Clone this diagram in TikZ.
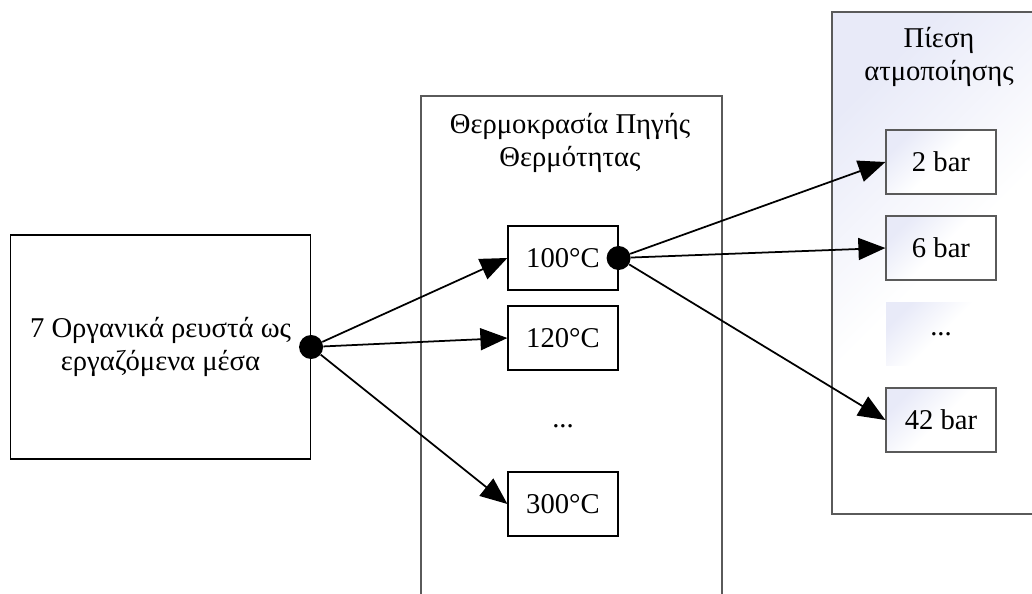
\documentclass[tikz,border=0pt]{standalone}
\usepackage{fontspec}
\setmainfont{Liberation Serif}
\usepackage{tikz}
\usetikzlibrary{positioning,arrows.meta,calc}
\definecolor{lavshade}{RGB}{232,234,248}
\definecolor{frame}{RGB}{90,90,90}

\begin{document}
\begin{tikzpicture}[
  x=0.02cm,y=-0.02cm,
  font=\fontsize{16.3}{18.8}\selectfont,
  box/.style={draw=black,line width=0.7pt,minimum width=2.2cm,minimum height=1.28cm,inner sep=0,align=center},
  grad/.style={top color=lavshade,bottom color=white,middle color=white,shading angle=45},
  pbox/.style={box,draw=frame,grad},
  colbox/.style={draw=frame,line width=0.7pt},
  dot/.style={circle,fill=black,inner sep=0,minimum size=0.48cm},
  ar/.style={-{Triangle[length=0.54cm,width=0.44cm]},line width=1pt},
]
\useasboundingbox (0,0) rectangle (1032,594);
% source fluids
\node[draw=black,line width=0.7pt,minimum width=6cm,minimum height=4.48cm,inner sep=0,align=center] (src) at (160.5,347)
 {7 Οργανικά ρευστά ως\\εργαζόμενα μέσα};
\node[dot] (srcdot) at (src.east) {};
% heat source temperature column
\draw[colbox] (421,594) |- (722,96) -- (722,594);
\node[align=center] (ttitle) at (570,143) {Θερμοκρασία Πηγής\\Θερμότητας};
\node[box] (t100) at (563,258) {100°C};
\node[box] (t120) at (563,338) {120°C};
\node (tdots) at (563,426) {...};
\node[box] (t300) at (563,504) {300°C};
\node[dot] (tdot) at (t100.east) {};
% evaporation pressure column
\shade[grad] (832,12) rectangle (1050,514);
\draw[colbox] (1032,12) -- (832,12) -- (832,514) -- (1032,514);
\node[align=center] (ptitle) at (939,57) {Πίεση\\ατμοποίησης};
\node[pbox] (p2) at (941,162) {2 bar};
\node[pbox] (p6) at (941,248) {6 bar};
\node[pbox,draw=none] (pdots) at (941,334) {...};
\node[pbox] (p42) at (941,420) {42 bar};
% connectors
\draw[ar] (srcdot)--(t100.west); \draw[ar] (srcdot)--(t120.west);
\draw[ar] (srcdot)--(t300.west);
\draw[ar] (tdot)--(p2.west); \draw[ar] (tdot)--(p6.west);
\draw[ar] (tdot)--(p42.west);
\end{tikzpicture}
\end{document}
